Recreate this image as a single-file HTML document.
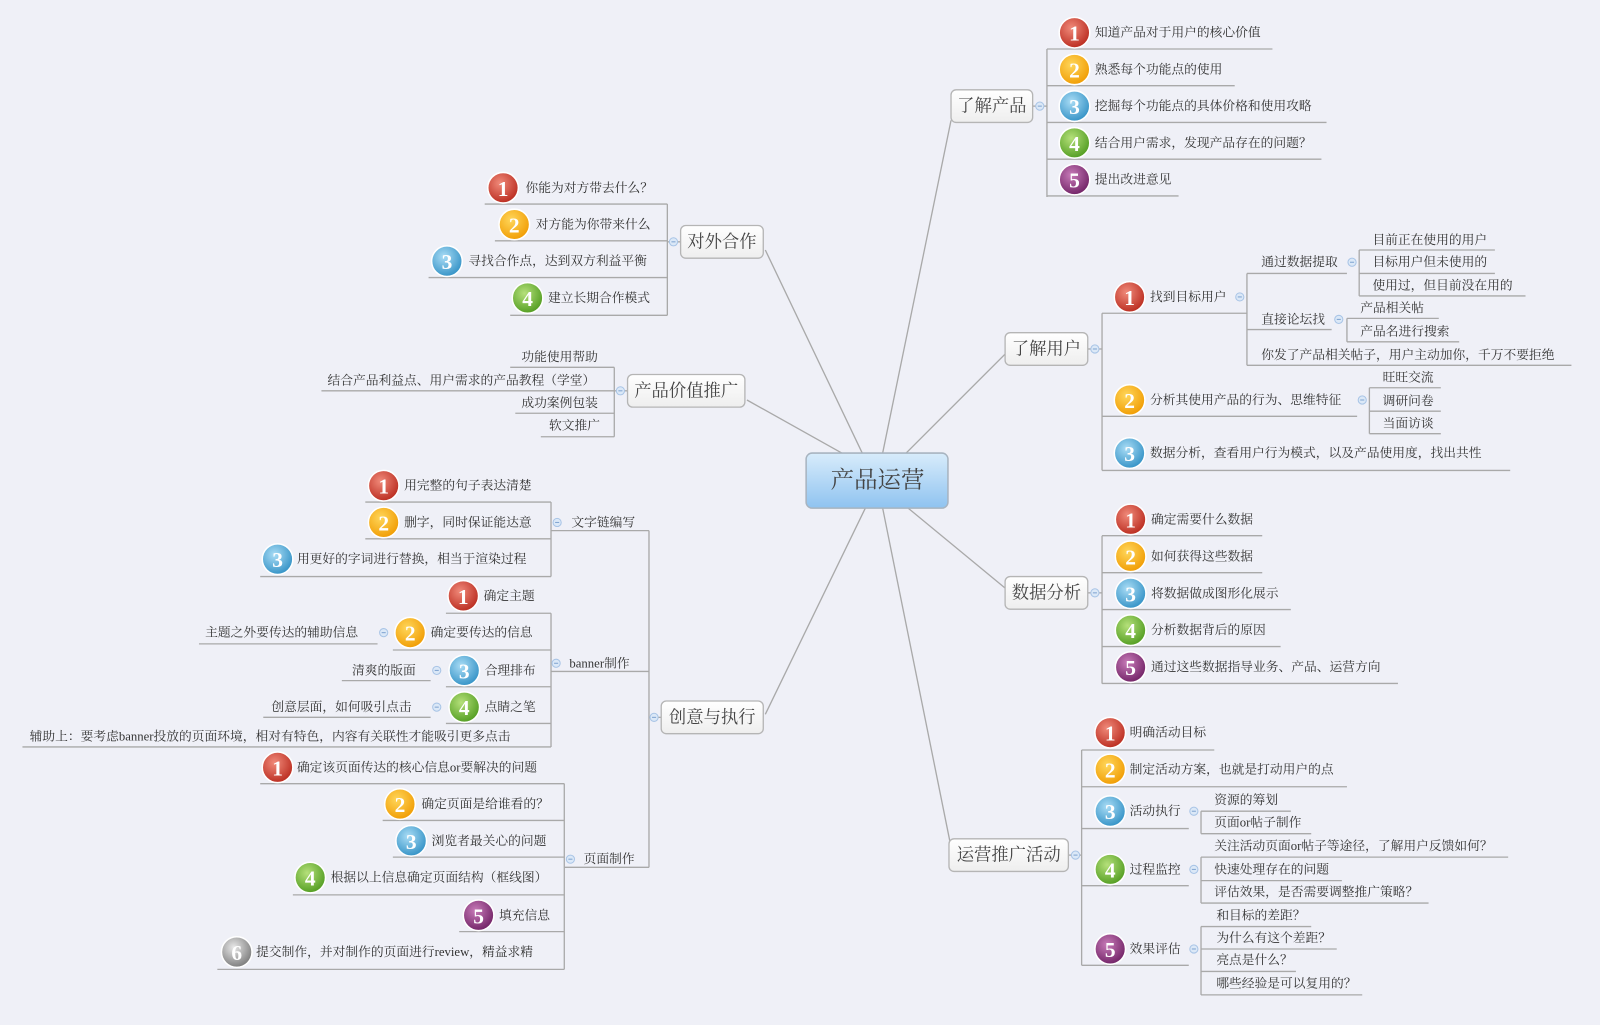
<!DOCTYPE html>
<html><head><meta charset="utf-8"><style>
html,body{margin:0;padding:0;background:#eff0f7;}
svg{display:block}
text{font-family:"Liberation Serif","Noto Serif CJK SC",serif;font-size:12.5px;fill:#333;dominant-baseline:central}
.bn{font-family:"Liberation Serif",serif;font-weight:bold;font-size:21px;fill:#fff;text-anchor:middle}
.nd{font-size:17px;fill:#444}
</style></head><body>
<svg id="s" width="1600" height="1025" viewBox="0 0 1568 1004.5" preserveAspectRatio="none" xmlns="http://www.w3.org/2000/svg">
<defs>
<linearGradient id="cg" x1="0" y1="0" x2="0" y2="1"><stop offset="0" stop-color="#d8ecfb"/><stop offset="1" stop-color="#8fc3f0"/></linearGradient>
<linearGradient id="ng" x1="0" y1="0" x2="0" y2="1"><stop offset="0" stop-color="#ffffff"/><stop offset="1" stop-color="#eeeeee"/></linearGradient>
</defs>
<g id="L" stroke="#a9a9a9" stroke-width="1.3" fill="none"></g>
<g id="T"></g>
</svg>
<script>
var L=document.getElementById('L'),T=document.getElementById('T'),NS='http://www.w3.org/2000/svg';
function el(p,n,a,t){var e=document.createElementNS(NS,n);for(var k in a)e.setAttribute(k,a[k]);if(t!=null)e.textContent=t;p.appendChild(e);return e;}
function ln(x1,y1,x2,y2){el(L,'line',{x1:x1,y1:y1,x2:x2,y2:y2});}
function tx(x,y,s,c){el(T,'text',{x:x,y:y,'class':c||''},s);}
var cols={1:['#f08a7a','#b8281c'],2:['#ffd65a','#f09a00'],3:['#a9dcf5','#2f8fc4'],4:['#b5e07a','#4e9a1e'],5:['#c77bb8','#6e1f63'],6:['#e8e8e8','#777']};
var gi=0;
function bd(x,y,n){var id='b'+(gi++);var g=el(document.querySelector('defs'),'radialGradient',{id:id,cx:'0.4',cy:'0.35',r:'0.7'});
el(g,'stop',{offset:'0','stop-color':cols[n][0]});el(g,'stop',{offset:'1','stop-color':cols[n][1]});
el(T,'circle',{cx:x,cy:y,r:15,fill:'url(#'+id+')',stroke:'#fff','stroke-width':1.5});
tx(x,y+1,String(n),'bn');}
function mn(x,y){el(T,'circle',{cx:x,cy:y,r:4,fill:'#dbe8f7',stroke:'#a8c4e6','stroke-width':1});el(T,'line',{x1:x-2,y1:y,x2:x+2,y2:y,stroke:'#7fa3d0'});}
function node(x1,y1,x2,y2,s){el(T,'rect',{x:x1,y:y1,width:x2-x1,height:y2-y1,rx:5,fill:'url(#ng)',stroke:'#b5b5b5','stroke-width':1.3});
el(T,'text',{x:(x1+x2)/2,y:(y1+y2)/2,'class':'nd','text-anchor':'middle'},s);}
ln(865,444,932,118);ln(888,444,987,345);ln(890,498,987,578);ln(865,498,932,830);
ln(845,444,750,245);ln(825,444,732,392);ln(848,498,750,700);
el(T,'rect',{x:790,y:444,width:139,height:54,rx:6,fill:'url(#cg)',stroke:'#a8b4c0','stroke-width':1.5});
el(T,'text',{x:860,y:471,'text-anchor':'middle',style:'font-size:23px;fill:#444'},'产品运营');
function it(bx,by,n,txx,s,uy,ux1,ux2){if(n)bd(bx,by,n);tx(txx,by,s);ln(ux1,uy,ux2,uy);}
function pl(x,y,s,uy,ux1,ux2){tx(x,y,s);ln(ux1,uy,ux2,uy);}
node(932,88,1012,120,'了解产品');ln(1012,104,1026,104);mn(1019,104);ln(1026,48,1026,193);
var a=[['知道产品对于用户的核心价值',1247],['熟悉每个功能点的使用',1210],['挖掘每个功能点的具体价格和使用攻略',1300],['结合用户需求，发现产品存在的问题？',1295],['提出改进意见',1155]];
a.forEach(function(v,i){it(1053,32+36*i,i+1,1073,v[0],48+36*i,1026,v[1]);});
node(985,326,1066,358,'了解用户');ln(1066,342,1080,342);mn(1073,342);ln(1080,307,1080,461);
it(1107,291,1,1127,'找到目标用户',307,1080,1222);mn(1215,291);ln(1222,268,1222,358);
pl(1236,257,'通过数据提取',268,1222,1320);mn(1325,257);ln(1332,245,1332,290);
pl(1345,235,'目前正在使用的用户',245,1332,1465);pl(1345,257,'目标用户但未使用的',268,1332,1465);pl(1345,280,'使用过，但目前没在用的',290,1332,1495);
pl(1236,313,'直接论坛找',323,1222,1305);mn(1312,313);ln(1320,312,1320,335);
pl(1333,302,'产品相关帖',312,1320,1410);pl(1333,325,'产品名进行搜索',335,1320,1430);
pl(1236,348,'你发了产品相关帖子，用户主动加你，千万不要拒绝',358,1222,1540);
it(1107,392,2,1127,'分析其使用产品的行为、思维特征',408,1080,1330);mn(1335,392);ln(1342,380,1342,425);
pl(1355,370,'旺旺交流',380,1342,1412);pl(1355,393,'调研问卷',403,1342,1412);pl(1355,415,'当面访谈',425,1342,1412);
it(1107,444,3,1127,'数据分析，查看用户行为模式，以及产品使用度，找出共性',461,1080,1480);
node(985,565,1066,597,'数据分析');ln(1066,581,1080,581);mn(1073,581);ln(1080,525,1080,670);
a=[['确定需要什么数据',1237],['如何获得这些数据',1237],['将数据做成图形化展示',1265],['分析数据背后的原因',1255],['通过这些数据指导业务、产品、运营方向',1370]];
a.forEach(function(v,i){it(1108,509+36.2*i,i+1,1128,v[0],525+36.2*i,1080,v[1]);});
node(930,822,1047,854,'运营推广活动');ln(1047,838,1060,838);mn(1054,838);ln(1060,735,1060,946);
it(1088,718,1,1107,'明确活动目标',735,1060,1190);
it(1088,754,2,1107,'制定活动方案，也就是打动用户的点',771,1060,1320);
it(1088,795,3,1107,'活动执行',812,1060,1165);mn(1170,795);ln(1177,795,1177,817);
pl(1190,784,'资源的筹划',795,1177,1265);pl(1190,806,'页面or帖子制作',817,1177,1285);
it(1088,852,4,1107,'过程监控',868,1060,1165);mn(1170,852);ln(1177,840,1177,885);
pl(1190,829,'关注活动页面or帖子等途径，了解用户反馈如何？',840,1177,1478);pl(1190,852,'快速处理存在的问题',863,1177,1315);pl(1190,874,'评估效果，是否需要调整推广策略？',885,1177,1400);
it(1088,930,5,1107,'效果评估',946,1060,1165);mn(1170,930);ln(1177,908,1177,975);
pl(1192,897,'和目标的差距？',908,1177,1285);pl(1192,919,'为什么有这个差距？',930,1177,1310);pl(1192,941,'亮点是什么？',952,1177,1270);pl(1192,964,'哪些经验是可以复用的？',975,1177,1335);
node(667,221,748,253,'对外合作');ln(654,237,667,237);mn(660,237);ln(654,200,654,309);
it(493,184,1,515,'你能为对方带去什么？',200,475,654);
it(504,220,2,525,'对方能为你带来什么',236,485,654);
it(438,256,3,459,'寻找合作点，达到双方利益平衡',272,420,654);
it(517,292,4,537,'建立长期合作模式',309,500,654);
node(615,367,730,399,'产品价值推广');ln(602,383,615,383);mn(608,383);ln(602,360,602,428);
pl(511,350,'功能使用帮助',360,500,602);pl(321,373,'结合产品利益点、用户需求的产品教程（学堂）',383,315,602);
pl(511,395,'成功案例包装',405,505,602);pl(538,417,'软文推广',428,530,602);
node(648,687,748,719,'创意与执行');ln(636,703,648,703);mn(641,703);ln(636,520,636,850);
pl(560,512,'文字链编写',520,540,636);mn(546,512);
pl(558,650,'banner制作',658,540,636);mn(545,650);
pl(572,842,'页面制作',850,553,636);mn(559,842);
ln(540,492,540,565);
it(376,476,1,396,'用完整的句子表达清楚',492,358,540);
it(376,512,2,396,'删字，同时保证能达意',528,358,540);
it(272,548,3,291,'用更好的字词进行替换，相当于渲染过程',565,255,540);
ln(540,601,540,732);
it(454,584,1,474,'确定主题',601,437,540);
it(402,620,2,422,'确定要传达的信息',637,385,540);mn(376,620);pl(201,620,'主题之外要传达的辅助信息',631,195,370);
it(455,657,3,475,'合理排布',673,437,540);mn(428,657);pl(345,657,'清爽的版面',667,335,422);
it(455,693,4,475,'点睛之笔',709,437,540);mn(428,693);pl(266,693,'创意层面，如何吸引点击',703,258,422);
pl(29,722,'辅助上：要考虑banner投放的页面环境，相对有特色，内容有关联性才能吸引更多点击',732,22,540);
ln(553,768,553,950);
it(272,752,1,291,'确定该页面传达的核心信息or要解决的问题',768,255,553);
it(392,788,2,413,'确定页面是给谁看的？',804,375,553);
it(403,824,3,423,'浏览者最关心的问题',840,385,553);
it(304,860,4,324,'根据以上信息确定页面结构（框线图）',877,287,553);
it(469,897,5,489,'填充信息',913,450,553);
it(232,933,6,251,'提交制作，并对制作的页面进行review，精益求精',950,213,553);
</script>
</body></html>
